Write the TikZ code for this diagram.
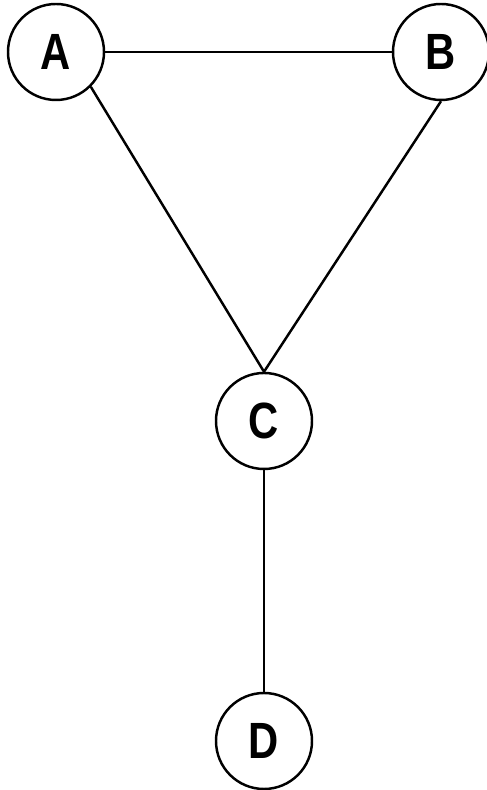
\documentclass[tikz,border=0pt]{standalone}
\usepackage{fontspec}
\setsansfont{Liberation Sans}[FakeStretch=0.82]
\tikzset{
  vertex/.style = { circle, draw, black, line width=1.4pt, minimum size=1.92cm, inner sep=0pt,
                    font=\sffamily\bfseries\fontsize{29}{32}\selectfont },
  edge/.style   = { line width=1.4pt, black },
}

\begin{document}
\begin{tikzpicture}
    \useasboundingbox (0,0) rectangle (9.74,15.8);

    % Draw all vertices
    \node[vertex] (A) at (1.12,14.76) {A};
    \node[vertex] (B) at (8.82,14.76) {B};
    \node[vertex] (C) at (5.28,7.38)  {C};
    \node[vertex] (D) at (5.28,0.98)  {D};

    % connect vertices
    \draw[edge] (A.east) -- (B.west);
    \draw[edge] (A.south east) -- (C.north);
    \draw[edge] (B.south) -- (C.north);
    \draw[edge] (C.south) -- (D.north);
\end{tikzpicture}
\end{document}
